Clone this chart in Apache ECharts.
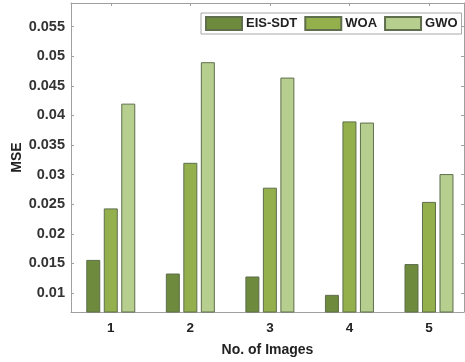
<!DOCTYPE html>
<html>
<head>
<meta charset="utf-8">
<script src="https://cdn.jsdelivr.net/npm/echarts@6/dist/echarts.min.js"></script>
<style>html,body{margin:0;padding:0;background:#fff;}#c{width:465px;height:362px;}</style>
</head>
<body>
<div id="c"></div>
<script>
const categories = ['1', '2', '3', '4', '5'];
const seriesNames = ['EIS-SDT', 'WOA', 'GWO'];
const eisSdt = [0.0156, 0.0133, 0.0128, 0.0097, 0.0149];
const woa = [0.0243, 0.0320, 0.0278, 0.0390, 0.0254];
const gwo = [0.0420, 0.0490, 0.0464, 0.0388, 0.0301];
const yTicks = [0.01, 0.015, 0.02, 0.025, 0.03, 0.035, 0.04, 0.045, 0.05, 0.055];
const xTicks = [1, 2, 3, 4, 5];

const colors = ['#6e8b3d', '#93b04c', '#b6cf8e'];
const font = '"Liberation Sans", Arial, sans-serif';

function toPairs(vals) { return vals.map((v, i) => [i + 1, v]); }

const chart = echarts.init(document.getElementById('c'), null, {renderer: 'canvas'});
const axisLineStyle = {color: '#a0a0a0', width: 1};
const tickStyle = {color: '#a0a0a0', width: 1};

chart.setOption({
  animation: false,
  backgroundColor: '#fff',
  grid: {left: 71, right: 1, top: 3, bottom: 50, containLabel: false, outerBoundsMode: 'none'},
  legend: {
    data: seriesNames,
    left: 201, top: 13,
    padding: [3, 4],
    itemWidth: 36, itemHeight: 13, itemGap: 7,
    backgroundColor: '#fff',
    borderColor: '#a8a8a8', borderWidth: 1,
    icon: 'rect',
    textStyle: {fontFamily: font, fontWeight: 'bold', fontSize: 13, color: '#222', padding: [0, 0, 0, -1]}
  },
  xAxis: [{
    type: 'value', min: 0.5, max: 5.44,
    name: 'No. of Images', nameLocation: 'middle', nameGap: 31, nameMoveOverlap: false,
    nameTextStyle: {fontFamily: font, fontWeight: 'bold', fontSize: 14, color: '#222'},
    axisLine: {show: true, lineStyle: axisLineStyle},
    axisTick: {show: true, inside: true, length: 3, customValues: xTicks, lineStyle: tickStyle},
    axisLabel: {customValues: xTicks, margin: 9, fontFamily: font, fontWeight: 'bold', fontSize: 13.5, color: '#222',
      formatter: v => categories[Math.round(v) - 1]},
    splitLine: {show: false}
  }, {
    type: 'value', min: 0.5, max: 5.44, position: 'top',
    axisLine: {show: true, onZero: false, lineStyle: axisLineStyle},
    axisTick: {show: true, inside: true, length: 3, customValues: xTicks, lineStyle: tickStyle},
    axisLabel: {show: false}, splitLine: {show: false}
  }],
  yAxis: [{
    type: 'value', min: 0.0068, max: 0.0590,
    name: 'MSE', nameLocation: 'middle', nameGap: 47, nameMoveOverlap: false,
    nameTextStyle: {fontFamily: font, fontWeight: 'bold', fontSize: 14, color: '#222'},
    axisLine: {show: true, lineStyle: axisLineStyle},
    axisTick: {show: true, inside: true, length: 3, customValues: yTicks, lineStyle: tickStyle},
    axisLabel: {customValues: yTicks, margin: 6, fontFamily: font, fontWeight: 'bold', fontSize: 14.5, color: '#333',
      formatter: v => String(parseFloat(v.toFixed(4)))},
    splitLine: {show: false}
  }, {
    type: 'value', min: 0.0068, max: 0.0590, position: 'right',
    axisLine: {show: true, onZero: false, lineStyle: axisLineStyle},
    axisTick: {show: true, inside: true, length: 3, customValues: yTicks, lineStyle: tickStyle},
    axisLabel: {show: false}, splitLine: {show: false}
  }],
  series: [eisSdt, woa, gwo].map((vals, k) => ({
    name: seriesNames[k], type: 'bar',
    xAxisIndex: 0, yAxisIndex: 0,
    data: toPairs(vals),
    barWidth: 14, barGap: '25%',
    itemStyle: {color: colors[k], borderColor: '#5f6e4c', borderWidth: 1}
  }))
});
</script>
</body>
</html>
